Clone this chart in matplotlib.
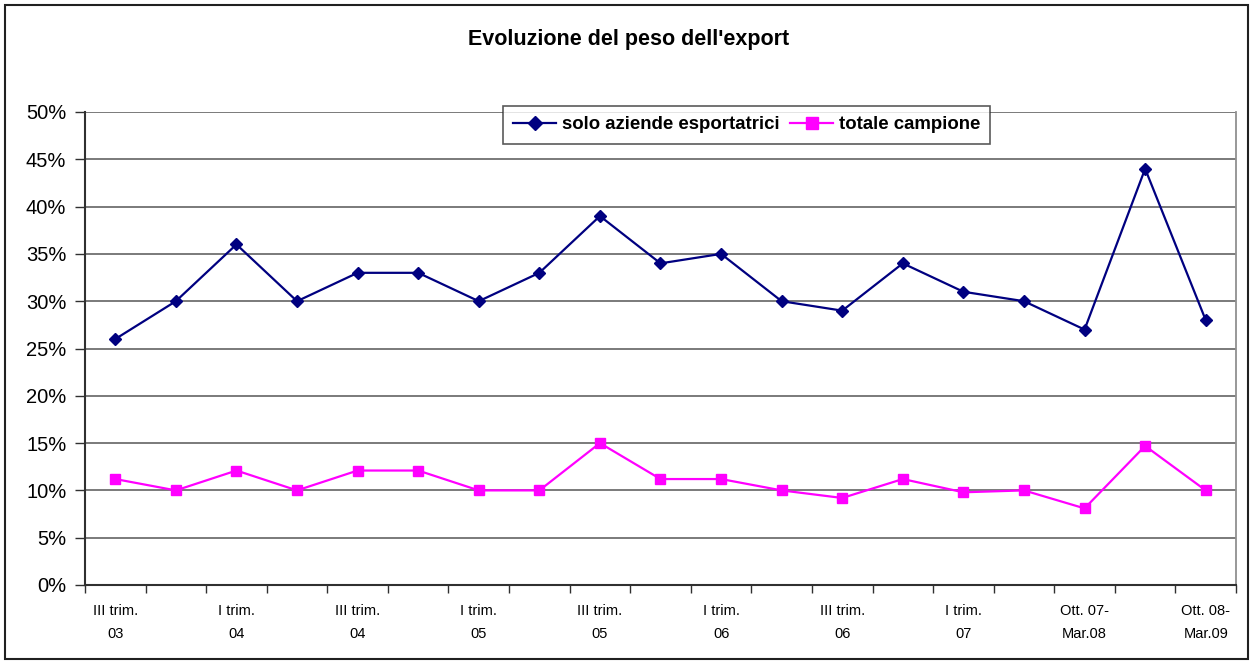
import matplotlib
matplotlib.use("Agg")
import matplotlib.pyplot as plt
from matplotlib.patches import Rectangle
from matplotlib.ticker import FixedLocator, PercentFormatter

plt.rcParams['font.family'] = ['Liberation Sans', 'DejaVu Sans']

categories = ["III trim.\n03", "IV trim.\n03", "I trim.\n04", "II trim.\n04",
              "III trim.\n04", "IV trim.\n04", "I trim.\n05", "II trim.\n05",
              "III trim.\n05", "IV trim.\n05", "I trim.\n06", "II trim.\n06",
              "III trim.\n06", "IV trim.\n06", "I trim.\n07", "II trim.\n07",
              "Ott. 07-\nMar.08", "Apr.08-\nSet.08", "Ott. 08-\nMar.09"]
solo_esportatrici = [26, 30, 36, 30, 33, 33, 30, 33, 39, 34, 35, 30, 29, 34, 31, 30, 27, 44, 28]
totale_campione = [11.2, 10, 12.1, 10, 12.1, 12.1, 10, 10, 15, 11.2, 11.2, 10, 9.2, 11.2, 9.8, 10, 8.1, 14.7, 10]
series_names = ["solo aziende esportatrici", "totale campione"]
title = "Evoluzione del peso dell'export"

W, H = 1250, 661
fig = plt.figure(figsize=(W / 100, H / 100), dpi=100)
fig.patch.set_facecolor('white')

# outer chart frame
fig.add_artist(Rectangle((5 / W, 2 / H), 1243 / W, 654 / H, transform=fig.transFigure,
                         fill=False, edgecolor='#202020', linewidth=1.5))

left, right, top, bottom = 85, 1236, 112, 585
ax = fig.add_axes([left / W, 1 - bottom / H, (right - left) / W, (bottom - top) / H])

n = len(categories)
x = list(range(n))
ax.plot(x, solo_esportatrici, color='#000080', linewidth=1.6, marker='D',
        markersize=6.5, label=series_names[0], zorder=3)
ax.plot(x, totale_campione, color='#FF00FF', linewidth=1.6, marker='s',
        markersize=7, label=series_names[1], zorder=3)

ax.set_xlim(-0.5, n - 0.5)
ax.set_ylim(0, 50)
ax.yaxis.set_major_locator(FixedLocator(list(range(0, 51, 5))))
ax.yaxis.set_major_formatter(PercentFormatter(decimals=0))
ax.grid(axis='y', color='#707070', linewidth=1.3)
ax.set_axisbelow(True)

ax.set_xticks([i - 0.5 for i in range(n + 1)])
ax.set_xticklabels([])
ax.set_xticks(list(range(0, n, 2)), minor=True)
ax.set_xticklabels([categories[i] for i in range(0, n, 2)], minor=True,
                   fontsize=10.5, linespacing=1.85)
ax.tick_params(axis='x', which='major', direction='out', length=6, width=1, color='#303030')
ax.tick_params(axis='x', which='minor', length=0, pad=13.5)
ax.tick_params(axis='y', direction='out', length=7, width=1, color='#303030',
               labelsize=14.5, pad=6.5)

for s in ['left', 'bottom']:
    ax.spines[s].set_color('#303030')
    ax.spines[s].set_linewidth(1.5)
ax.spines['top'].set_visible(False)
ax.spines['right'].set_color('#909090')
ax.spines['right'].set_linewidth(1.3)

leg = ax.legend(loc='upper left', bbox_to_anchor=((503 - left) / (right - left), 1 + (top - 106) / (bottom - top)),
                ncol=2, frameon=True, fancybox=False, edgecolor='#303030',
                prop={'weight': 'bold', 'size': 13.4}, handlelength=2.3,
                handletextpad=0.3, columnspacing=0.6, borderpad=0.55,
                borderaxespad=0, markerscale=1.15)
leg.get_frame().set_linewidth(1.2)

fig.text(629 / W, 1 - 40 / H, title, ha='center', va='center', fontsize=15.5, fontweight='bold')

fig.savefig('out.png', dpi=100)
